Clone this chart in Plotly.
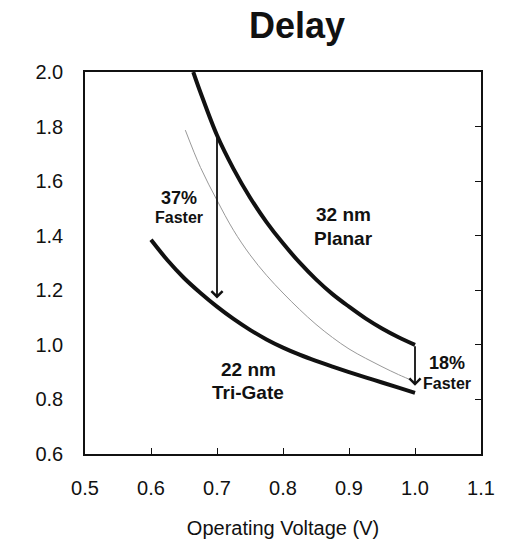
import plotly.graph_objects as go

# Delay vs operating voltage
planar_v = [0.664, 0.675, 0.7, 0.725, 0.75, 0.775, 0.8, 0.825, 0.85, 0.875, 0.9, 0.925, 0.95, 0.975, 1.0]
planar_d = [2.0, 1.925, 1.768, 1.645, 1.54, 1.45, 1.372, 1.302, 1.24, 1.186, 1.14, 1.097, 1.06, 1.028, 1.0]

scaled_v = [0.652, 0.675, 0.7, 0.725, 0.75, 0.775, 0.8, 0.825, 0.85, 0.875, 0.9, 0.925, 0.95, 0.975, 1.0]
scaled_d = [1.787, 1.65, 1.53, 1.42, 1.33, 1.255, 1.19, 1.13, 1.075, 1.027, 0.985, 0.951, 0.92, 0.891, 0.865]

trigate_v = [0.6, 0.625, 0.65, 0.675, 0.7, 0.725, 0.75, 0.775, 0.8, 0.825, 0.85, 0.875, 0.9, 0.925, 0.95, 0.975, 1.0]
trigate_d = [1.385, 1.31, 1.245, 1.19, 1.14, 1.095, 1.055, 1.02, 0.99, 0.964, 0.941, 0.92, 0.9, 0.881, 0.862, 0.843, 0.824]

# Speed-up arrows: (voltage, start delay, end delay)
arrows = [(0.7, 1.765, 1.17), (1.0, 1.0, 0.85)]

x_ticks = [0.5, 0.6, 0.7, 0.8, 0.9, 1.0, 1.1]
y_ticks = [0.6, 0.8, 1.0, 1.2, 1.4, 1.6, 1.8, 2.0]

FONT = "Liberation Sans, Arial, sans-serif"
INK = "#111111"

fig = go.Figure()
fig.add_trace(go.Scatter(x=scaled_v, y=scaled_d, mode="lines", line=dict(color="#999999", width=1, shape="spline"), hoverinfo="skip"))
fig.add_trace(go.Scatter(x=planar_v, y=planar_d, mode="lines", line=dict(color=INK, width=4, shape="spline"), hoverinfo="skip"))
fig.add_trace(go.Scatter(x=trigate_v, y=trigate_d, mode="lines", line=dict(color=INK, width=4, shape="spline"), hoverinfo="skip"))
# secondary axis only carries the inward ticks on the right frame edge
fig.add_trace(go.Scatter(x=[None], y=[None], yaxis="y2", showlegend=False, hoverinfo="skip"))

for v, y0, y1 in arrows:
    fig.add_annotation(x=v, y=y1, ax=v, ay=y0, xref="x", yref="y", axref="x", ayref="y",
                       showarrow=True, arrowhead=4, arrowsize=1.2, arrowwidth=1.8, arrowcolor=INK, text="")

labels = [
    (0.642, 1.54, "37%", 18),
    (0.642, 1.465, "Faster", 16),
    (0.891, 1.476, "32 nm", 19),
    (0.891, 1.39, "Planar", 19),
    (0.747, 0.91, "22 nm", 19),
    (0.747, 0.825, "Tri-Gate", 19),
    (1.048, 0.934, "18%", 18),
    (1.048, 0.86, "Faster", 16),
]
for x, y, t, s in labels:
    fig.add_annotation(x=x, y=y, text="<b>%s</b>" % t, showarrow=False,
                       font=dict(family=FONT, size=s, color=INK))

fig.update_layout(
    width=511, height=539,
    margin=dict(l=85, r=30, t=72, b=85, autoexpand=False),
    paper_bgcolor="white", plot_bgcolor="white",
    showlegend=False,
    title=dict(text="<b>Delay</b>", xref="container", yref="container",
               x=297 / 511, xanchor="center", y=1 - 25 / 539, yanchor="middle",
               font=dict(family=FONT, size=36, color=INK)),
    xaxis=dict(range=[0.5, 1.1], tickvals=x_ticks, ticktext=["%.1f" % v for v in x_ticks],
               ticks="inside", ticklen=6, tickwidth=1.2, tickcolor=INK,
               showline=True, linecolor=INK, linewidth=1.5, mirror=True,
               showgrid=False, zeroline=False, ticklabelstandoff=15, automargin=False,
               tickfont=dict(family=FONT, size=20, color=INK),
               title=dict(text="Operating Voltage (V)", standoff=24,
                          font=dict(family=FONT, size=20, color=INK))),
    yaxis=dict(range=[0.6, 2.0], tickvals=y_ticks, ticktext=["%.1f" % v for v in y_ticks],
               ticks="", showline=True, linecolor=INK, linewidth=1.5, mirror=True,
               showgrid=False, zeroline=False, ticklabelstandoff=16, automargin=False,
               tickfont=dict(family=FONT, size=20, color=INK)),
    yaxis2=dict(range=[0.6, 2.0], overlaying="y", side="right", tickvals=y_ticks[1:-1],
                ticks="inside", ticklen=6, tickwidth=1.2, tickcolor=INK, automargin=False,
                showticklabels=False, showgrid=False, zeroline=False, showline=False),
)

fig.write_html("out.html")
